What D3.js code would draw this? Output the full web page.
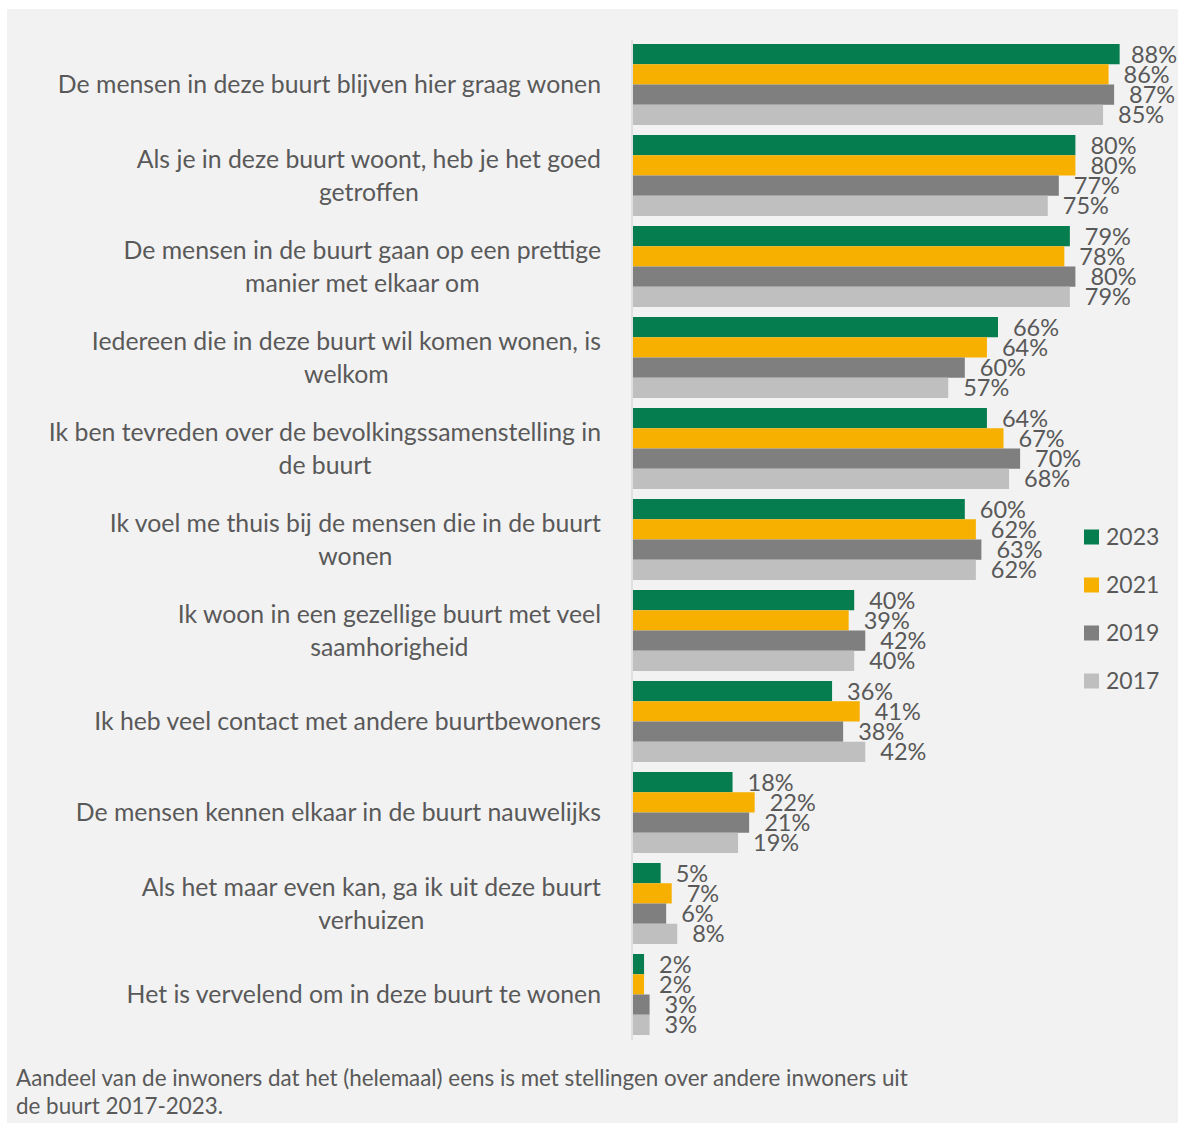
<!DOCTYPE html>
<html>
<head>
<meta charset="utf-8">
<script src="https://cdn.jsdelivr.net/npm/d3@7"></script>
<style>
  html, body { margin: 0; padding: 0; background: #ffffff; }
  svg { display: block; font-family: Lato, "Open Sans", sans-serif; }
</style>
</head>
<body>
<svg id="chart" width="1178" height="1123"></svg>
<script>
// ---- data ----
const categories = [
  ["De mensen in deze buurt blijven hier graag wonen"],
  ["Als je in deze buurt woont, heb je het goed", "getroffen"],
  ["De mensen in de buurt gaan op een prettige", "manier met elkaar om"],
  ["Iedereen die in deze buurt wil komen wonen, is", "welkom"],
  ["Ik ben tevreden over de bevolkingssamenstelling in", "de buurt"],
  ["Ik voel me thuis bij de mensen die in de buurt", "wonen"],
  ["Ik woon in een gezellige buurt met veel", "saamhorigheid"],
  ["Ik heb veel contact met andere buurtbewoners"],
  ["De mensen kennen elkaar in de buurt nauwelijks"],
  ["Als het maar even kan, ga ik uit deze buurt", "verhuizen"],
  ["Het is vervelend om in deze buurt te wonen"]
];
const seriesNames = ["2023", "2021", "2019", "2017"];
const values2023 = [88, 80, 79, 66, 64, 60, 40, 36, 18, 5, 2];
const values2021 = [86, 80, 78, 64, 67, 62, 39, 41, 22, 7, 2];
const values2019 = [87, 77, 80, 60, 70, 63, 42, 38, 21, 6, 3];
const values2017 = [85, 75, 79, 57, 68, 62, 40, 42, 19, 8, 3];
const seriesValues = [values2023, values2021, values2019, values2017];
const captionLines = [
  "Aandeel van de inwoners dat het (helemaal) eens is met stellingen over andere inwoners uit",
  "de buurt 2017-2023."
];

// ---- styles ----
const colors = ["#067d4e", "#f8b000", "#7f7f7f", "#bfbfbf"];
const textColor = "#595959";

const svg = d3.select("#chart");
svg.append("rect").attr("x", 7).attr("y", 9).attr("width", 1171).attr("height", 1114).attr("fill", "#f2f2f2");

const idx = d3.range(categories.length);
const x = d3.scaleLinear().domain([0, 100]).range([633, 1186]);
const pad = 10 / 91;
const y = d3.scaleBand().domain(idx).range([34, 1045]).paddingInner(pad).paddingOuter(pad);
const ys = d3.scaleBand().domain(seriesNames).range([0, y.bandwidth()]);

// bars
const groups = svg.append("g").selectAll("g").data(idx).join("g")
  .attr("transform", i => `translate(0,${y(i)})`);

seriesNames.forEach((s, si) => {
  groups.append("rect")
    .attr("x", x(0))
    .attr("y", ys(s))
    .attr("width", i => x(seriesValues[si][i]) - x(0))
    .attr("height", ys.bandwidth())
    .attr("fill", colors[si]);
});

// axis line
svg.append("line").attr("x1", 632).attr("x2", 632).attr("y1", 40).attr("y2", 1040)
  .attr("stroke", "#d9d9d9").attr("stroke-width", 1.5);

// value labels
seriesNames.forEach((s, si) => {
  groups.append("text")
    .attr("x", i => x(seriesValues[si][i]) + 15)
    .attr("y", ys(s) + ys.bandwidth() / 2)
    .attr("dy", "0.36em")
    .attr("font-size", 23.5)
    .attr("fill", textColor)
    .text(i => seriesValues[si][i] + "%")
    .each(function () {
      const w = this.getComputedTextLength();
      const cx = +this.getAttribute("x");
      if (cx + w > 1177) this.setAttribute("x", 1177 - w);
    });
});

// category labels
const labelRight = 601;
const lineH = 33;
idx.forEach(i => {
  const lines = categories[i];
  const g = svg.append("g");
  const cy = y(i) + y.bandwidth() / 2;
  const texts = lines.map((ln, li) => g.append("text")
    .attr("y", cy + (li - (lines.length - 1) / 2) * lineH)
    .attr("dy", "0.36em")
    .attr("font-size", 24.8)
    .attr("fill", textColor)
    .attr("text-anchor", "middle")
    .text(ln));
  const maxW = d3.max(texts, t => t.node().getComputedTextLength());
  texts.forEach(t => t.attr("x", labelRight - maxW / 2));
});

// legend
const legend = svg.append("g").selectAll("g").data(seriesNames).join("g")
  .attr("transform", (d, i) => `translate(1084,${537 + i * 48})`);
legend.append("rect").attr("x", 0).attr("y", -7.5).attr("width", 15).attr("height", 15)
  .attr("fill", (d, i) => colors[i]);
legend.append("text").attr("x", 22).attr("dy", "0.36em").attr("font-size", 23)
  .attr("fill", textColor).text(d => d);

// caption
svg.append("g").selectAll("text").data(captionLines).join("text")
  .attr("x", 16).attr("y", (d, i) => 1078 + i * 28).attr("dy", "0.36em")
  .attr("font-size", 22.4).attr("fill", textColor).text(d => d);
</script>
</body>
</html>
